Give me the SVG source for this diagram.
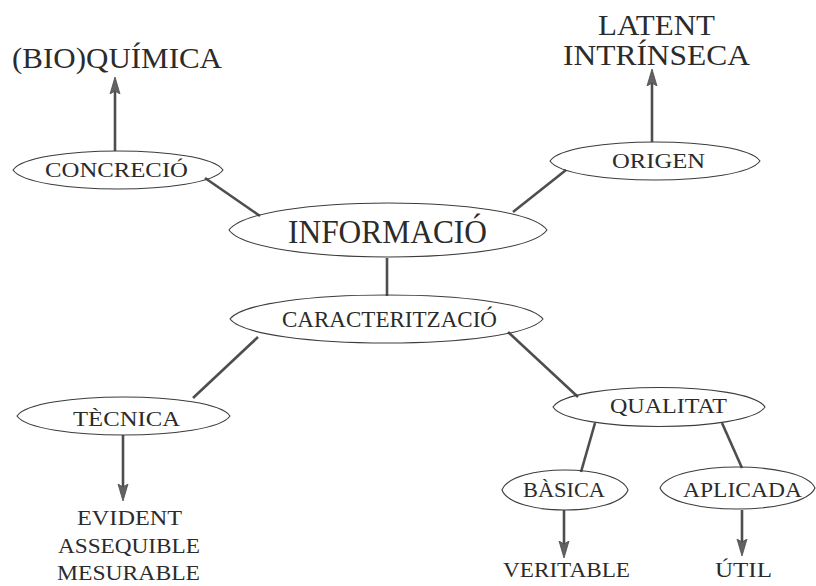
<svg xmlns="http://www.w3.org/2000/svg" width="816" height="586" viewBox="0 0 816 586">
<defs>
<style>
.bg{fill:#ffffff}
.node path{fill:none;stroke:#3c3c3c;stroke-width:1.1}
.node text,.leaf text{font-family:"Liberation Serif","Times New Roman",serif;fill:#2b2b2b}
.s{font-size:20px}
.sm{font-size:22px}
.m{font-size:24px}
.l{font-size:29px}
.xl{font-size:34px}
.conn line{stroke:#4e4e4e;stroke-width:2.6;fill:none}
</style>
<marker id="arr" markerUnits="userSpaceOnUse" markerWidth="18" markerHeight="12" refX="8" refY="6" orient="auto">
<path d="M0,1 L17,6 L0,11 L3,6 Z" fill="#626262" stroke="#4a4a4a" stroke-width="0.8"/>
</marker>
</defs>
<rect class="bg" x="0" y="0" width="816" height="586"/>

<g id="connectors" class="conn">
<line x1="115" y1="151" x2="115" y2="86" marker-end="url(#arr)"/>
<line x1="205" y1="178" x2="260" y2="216"/>
<line x1="513" y1="212" x2="566" y2="170"/>
<line x1="652" y1="142" x2="652" y2="78" marker-end="url(#arr)"/>
<line x1="387" y1="258" x2="387" y2="296"/>
<line x1="258" y1="337" x2="193" y2="398"/>
<line x1="123" y1="435" x2="123" y2="492" marker-end="url(#arr)"/>
<line x1="508" y1="332" x2="578" y2="397"/>
<line x1="595" y1="423" x2="581" y2="472"/>
<line x1="722" y1="423" x2="742" y2="468"/>
<line x1="564" y1="510" x2="564" y2="549" marker-end="url(#arr)"/>
<line x1="742" y1="510" x2="742" y2="547" marker-end="url(#arr)"/>
</g>

<g id="bioquimica" class="leaf">
<text class="l" x="12" y="68" textLength="210" lengthAdjust="spacingAndGlyphs">(BIO)QUÍMICA</text>
</g>
<g id="latent" class="leaf">
<text class="l" x="598" y="35" textLength="117" lengthAdjust="spacingAndGlyphs">LATENT</text>
<text class="l" x="563" y="65" textLength="187" lengthAdjust="spacingAndGlyphs">INTRÍNSECA</text>
</g>

<g id="concrecio" class="node">
<path d="M13,170 C30,144.7 206,144.7 223,170 C206,195.3 30,195.3 13,170 Z"/>
<text class="s" x="45" y="177" textLength="143" lengthAdjust="spacingAndGlyphs">CONCRECIÓ</text>
</g>
<g id="origen" class="node">
<path d="M550,161 C567,135.7 743,135.7 760,161 C743,186.3 567,186.3 550,161 Z"/>
<text class="sm" x="612" y="168" textLength="93" lengthAdjust="spacingAndGlyphs">ORIGEN</text>
</g>
<g id="informacio" class="node">
<path d="M229,230 C255,194 521,194 547,230 C521,266 255,266 229,230 Z"/>
<text class="xl" x="288" y="243" textLength="199" lengthAdjust="spacingAndGlyphs">INFORMACIÓ</text>
</g>
<g id="caracteritzacio" class="node">
<path d="M230,319 C255,287 518,287 543,319 C518,351 255,351 230,319 Z"/>
<text class="m" x="282" y="327" textLength="215" lengthAdjust="spacingAndGlyphs">CARACTERITZACIÓ</text>
</g>
<g id="tecnica" class="node">
<path d="M17,416 C34,390.7 213,390.7 230,416 C213,441.3 34,441.3 17,416 Z"/>
<text class="sm" x="73" y="426" textLength="107" lengthAdjust="spacingAndGlyphs">TÈCNICA</text>
</g>
<g id="evident" class="leaf">
<text class="s" x="77" y="525" textLength="105" lengthAdjust="spacingAndGlyphs">EVIDENT</text>
<text class="s" x="58" y="553" textLength="142" lengthAdjust="spacingAndGlyphs">ASSEQUIBLE</text>
<text class="s" x="57" y="580" textLength="143" lengthAdjust="spacingAndGlyphs">MESURABLE</text>
</g>
<g id="qualitat" class="node">
<path d="M553,407 C570,381 748,381 765,407 C748,433 570,433 553,407 Z"/>
<text class="sm" x="610" y="413" textLength="117" lengthAdjust="spacingAndGlyphs">QUALITAT</text>
</g>
<g id="basica" class="node">
<path d="M502,490 C512,463.3 618,463.3 628,490 C618,516.7 512,516.7 502,490 Z"/>
<text class="sm" x="523" y="497" textLength="82" lengthAdjust="spacingAndGlyphs">BÀSICA</text>
</g>
<g id="aplicada" class="node">
<path d="M660,488 C672,460 803,460 815,488 C803,516 672,516 660,488 Z"/>
<text class="sm" x="683" y="497" textLength="119" lengthAdjust="spacingAndGlyphs">APLICADA</text>
</g>
<g id="veritable" class="leaf">
<text class="sm" x="503" y="577" textLength="127" lengthAdjust="spacingAndGlyphs">VERITABLE</text>
</g>
<g id="util" class="leaf">
<text class="sm" x="715" y="577" textLength="57" lengthAdjust="spacingAndGlyphs">ÚTIL</text>
</g>
</svg>
